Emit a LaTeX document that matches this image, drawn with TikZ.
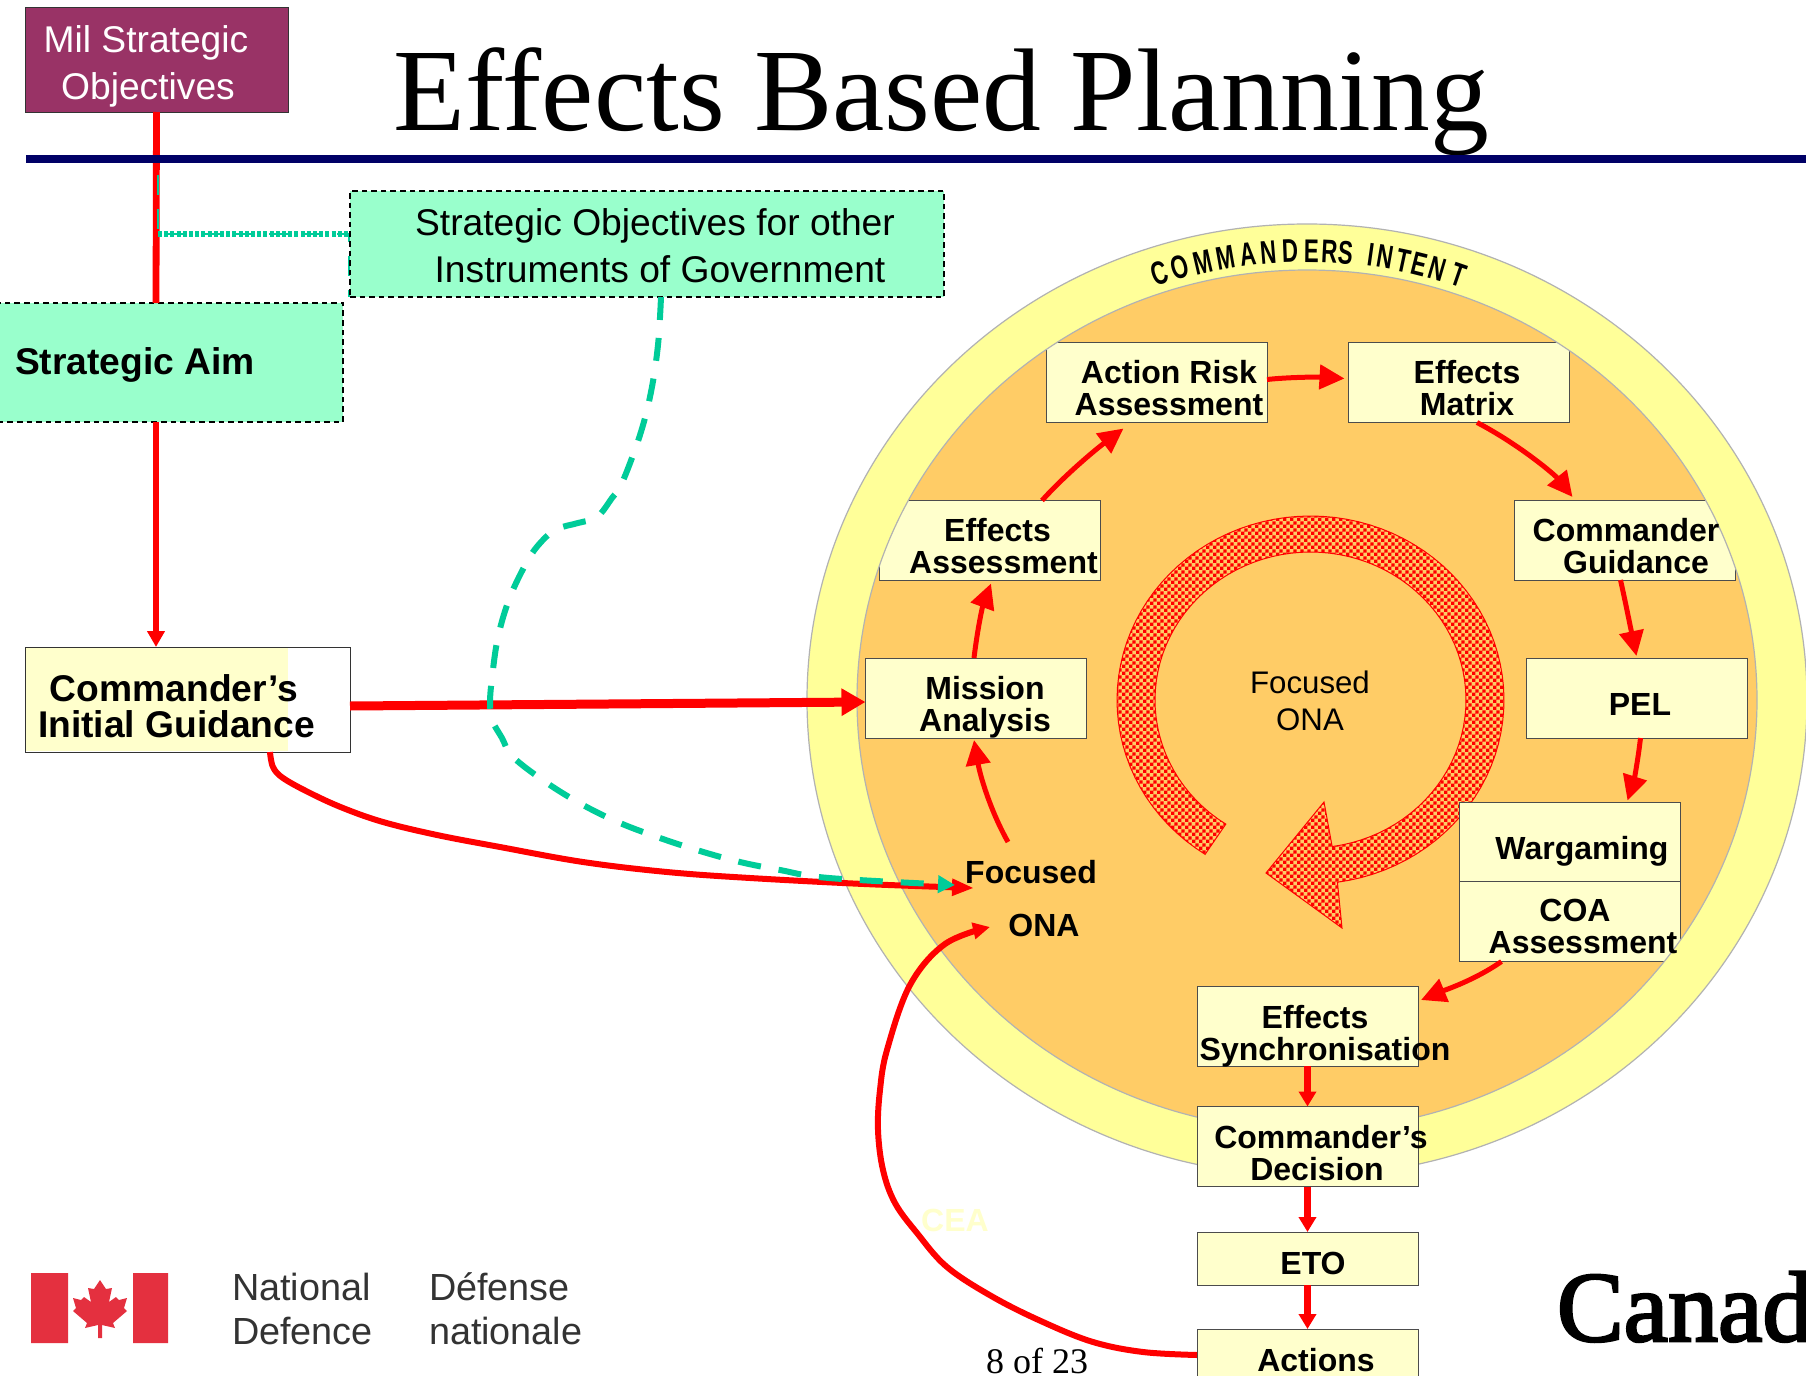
\documentclass[tikz,border=0pt]{standalone}
\usepackage{fontspec}
\setmainfont{Liberation Sans}
\newfontfamily\titlefont{Liberation Serif}
\newfontfamily\canadafont[FakeBold=2.5]{Liberation Serif}
\usetikzlibrary{arrows.meta,patterns,calc}

\definecolor{planyellow}{HTML}{FFFFCC}
\definecolor{ringyellow}{HTML}{FFFF99}
\definecolor{planorange}{HTML}{FFCC66}
\definecolor{aimgreen}{HTML}{99FFCC}
\definecolor{linkgreen}{HTML}{00CC99}
\definecolor{milpurple}{HTML}{993366}
\definecolor{rulenavy}{HTML}{000066}
\definecolor{flagred}{HTML}{E4303F}

\pgfdeclarepatternformonly{ringcheck}{\pgfqpoint{0pt}{0pt}}{\pgfqpoint{3.4pt}{3.4pt}}{\pgfqpoint{3.4pt}{3.4pt}}{
  \pgfpathrectangle{\pgfpointorigin}{\pgfqpoint{1.7pt}{1.7pt}}
  \pgfpathrectangle{\pgfqpoint{1.7pt}{1.7pt}}{\pgfqpoint{1.7pt}{1.7pt}}
  \pgfusepath{fill}}

\tikzset{
  planbox/.style={draw=black!70,fill=planyellow,line width=.5pt,minimum width=110.5pt,minimum height=#1},
  planbox/.default=40pt,
  greenbox/.style={draw=black,fill=aimgreen,dash pattern=on 2.8pt off 2pt,line width=1pt},
  boxtext/.style={align=center,font=\fontsize{16}{15.9}\selectfont\bfseries},
  bigtext/.style={align=center,font=\fontsize{18.6}{18}\selectfont\bfseries},
  plaintext/.style={align=center,font=\fontsize{18.6}{23.5}\selectfont},
  logotext/.style={align=left,anchor=west,text=black!80,font=\fontsize{18.9}{22}\selectfont},
  looparrow/.style={red,line width=2.5pt,-{Triangle[length=12.5pt,width=12pt]}},
  smallarrow/.style={red,line width=3.2pt,-{Triangle[length=7.5pt,width=8.5pt]}}
}

\begin{document}
\begin{tikzpicture}[x=.5pt,y=-.5pt,every node/.style={inner sep=0,outer sep=0}]
\path[use as bounding box,fill=white] (0,0) rectangle (1806,1376);

\node[anchor=base,font=\fontsize{58.8}{60}\selectfont\titlefont] (title) at (941.5,130) {Effects Based Planning};
\node[draw=black!80,fill=milpurple,minimum width=131.5pt,minimum height=52.5pt] (mil) at (156.5,59.5) {};
\node[plaintext,text=white] (mil-t) at (146,66.5) {Mil Strategic\\\kern2pt Objectives};

% red trunk goes under the rule
\node[greenbox,minimum width=187pt,minimum height=59.5pt] (aim) at (156,362.5) {};
\node[bigtext,anchor=base] (aim-t) at (135,374) {Strategic Aim};
\node[draw=black!80,fill=white,line width=.5pt,minimum width=162.5pt,minimum height=52.5pt] (cig) at (187.5,699.5) {};
\fill[planyellow] (26,648) rectangle (288,751);
\node[bigtext] (cig-t) at (176.5,706.5) {Commander's\kern2.5pt\\Initial Guidance};
\draw[red,line width=3.4pt] (mil.south) -- (aim.north);
\draw[red,line width=3.4pt,-{Triangle[length=8pt,width=8.5pt]}] (aim.south) -- ([xshift=-15.75pt]cig.north);
\draw[rulenavy,line width=4pt] (26,159) -- (1806,159);

% thin stub of the green link, mostly hidden
\coordinate (link-top) at (158,175);
\coordinate (link-corner) at (158,234);
\draw[linkgreen,line width=1pt,dash pattern=on 10pt off 7pt] (link-top) -- (link-corner) -- (349,234) -- (349,297);
\node[greenbox,minimum width=297pt,minimum height=53pt] (objs) at (647,244) {};
\node[plaintext] (objs-t) at (655,245.5) {Strategic Objectives for other\\\kern5pt Instruments of Government};
\draw[linkgreen,line width=3.4pt,dash pattern=on 2pt off 1.1pt] (link-corner) -- (objs.west |- link-corner);

% planning circle
\fill[planorange] (1307,700) ellipse [x radius=225pt,y radius=215pt];

% focused ONA ring
\draw[red,line width=.5pt,pattern=ringcheck,pattern color=red]
  plot[domain=237:-82,samples=90] ({1310.5+193.5*cos(\x)},{700-184*sin(\x)})
  -- (1342,928) -- (1266,873) -- (1324,802)
  -- plot[domain=-82:237,samples=90] ({1310.5+155.5*cos(\x)},{700-148*sin(\x)}) -- cycle;

\node[planbox] (mission) at (976,698) {};
\node[planbox] (effects-a) at (990,540.5) {};
\node[planbox] (action) at (1156.5,382.5) {};
\node[planbox] (matrix) at (1459,382.5) {};
\node[planbox] (guidance) at (1624.5,540) {};
\node[planbox] (pel) at (1636.5,698) {};
\node[planbox] (wargaming) at (1569.5,842.5) {};
\node[planbox] (coa) at (1569.5,921.5) {};
\node[planbox] (sync) at (1307.5,1026) {};

% ring goes over the box corners
\filldraw[ringyellow,draw=black!30,line width=.6pt,even odd rule]
  (1307,700) ellipse [x radius=250pt,y radius=238pt]
  (1307,700) ellipse [x radius=225pt,y radius=215pt];
\node[planbox] (decision) at (1307.5,1146.5) {};
\node[planbox=26.5pt] (eto) at (1307.5,1258.5) {};
\node[planbox] (actions) at (1307.5,1369) {};

\foreach \letter/\lx in {C/132,O/178,M/228,M/280,A/330,N/375,D/422,E/470,R/510,S/547,I/603,N/633,T/675,E/710,N/750,T/797} {
  \pgfmathsetmacro\ldx{(\lx-460)/2.22}
  \node[rotate={-\ldx*.125},font=\fontsize{16.4}{17}\selectfont\bfseries] (intent-\lx)
    at ({1307+\ldx},{700-449*sqrt(1-(\ldx/471)*(\ldx/471))}) {\scalebox{.68}[1]{\letter}};
}

\node[boxtext] (mission-t) at (985,707.5) {Mission\\Analysis};
\node[boxtext] (effects-t) at (1003.5,546) {Effects\kern6pt\\Assessment};
\node[boxtext] (action-t) at (1169,388) {Action Risk\\Assessment};
\node[boxtext] (matrix-t) at (1467,388) {Effects\\Matrix};
\node[boxtext] (guidance-t) at (1626,546) {Commander\\\kern10pt Guidance};
\node[boxtext,anchor=base] (pel-t) at (1640,715) {PEL};
\node[boxtext,anchor=base] (wargaming-t) at (1582,859) {Wargaming};
\node[boxtext] (coa-t) at (1583,926.5) {COA\kern8pt\\Assessment};
\node[boxtext] (sync-t) at (1325,1036.5) {Effects\kern10pt\\Synchronisation};
\node[boxtext] (decision-t) at (1321,1153) {Commander's\\Decision\kern4pt};
\node[boxtext,anchor=base] (eto-t) at (1313,1274) {ETO};
\node[boxtext,anchor=base] (actions-t) at (1316,1371) {Actions};
\node[boxtext,anchor=base] (focused) at (1031,883) {Focused};
\node[boxtext,anchor=base] (ona) at (1044,936) {ONA};
\node[align=center,font=\fontsize{15.6}{18.4}\selectfont] (ring-t) at (1310,700.5) {Focused\\ONA};
\node[boxtext,anchor=base,text=planyellow] (cea) at (955,1231) {CEA};

% loop arrows
\coordinate (focused-out) at (1008,842);
\draw[looparrow] (focused-out) .. controls (990,810) and (980,775) .. ([xshift=-1pt,yshift=-1pt]mission.south);
\draw[looparrow] ([xshift=-1pt]mission.north) .. controls (978,625) and (983,605) .. ([xshift=.5pt,yshift=-1.5pt]effects-a.south);
\draw[looparrow] ([xshift=26pt]effects-a.north) .. controls (1065,475) and (1095,450) .. ([xshift=-16.5pt,yshift=-3pt]action.south);
\draw[looparrow] ([yshift=1.5pt]action.east) .. controls (1290,377) and (1320,377) .. ([xshift=-2pt,yshift=2pt]matrix.west);
\draw[looparrow] ([xshift=9pt]matrix.south) .. controls (1520,445) and (1555,475) .. ([xshift=-26pt,yshift=1.5pt]guidance.north);
\draw[looparrow] ([xshift=-2pt]guidance.south) .. controls (1625,600) and (1630,625) .. ([yshift=1pt]pel.north);
\draw[looparrow] ([xshift=2pt]pel.south) .. controls (1638,760) and (1634,780) .. ([xshift=29pt,yshift=1pt]wargaming.north);
\draw[looparrow] ([xshift=-34pt]coa.south) .. controls (1475,980) and (1445,990) .. ([xshift=1.5pt,yshift=-7pt]sync.north east);

\draw[smallarrow] (sync.south) -- (decision.north);
\draw[smallarrow] (decision.south) -- (eto.north);
\draw[smallarrow] (eto.south) -- (actions.north);

\draw[red,line width=4.5pt,-{Triangle[length=12pt,width=13pt]}] ([yshift=-3.25pt]cig.east) -- ([yshift=-2pt]mission.west);

\coordinate (focused-red) at (974,888);
\coordinate (focused-green) at (955,885);
\coordinate (ona-in) at (990,927);
\draw[red,line width=3pt,-{Triangle[length=11pt,width=8pt]}] plot[smooth,tension=.6] coordinates
  {([xshift=41.25pt]cig.south) (273,767) (283,778) (310,793) (343,808) (383,822) (437,835) (500,847) (583,862) (667,872) (750,878) (864,884) (focused-red)};
\draw[red,line width=3pt,-{Triangle[length=8.5pt,width=8pt]}] plot[smooth,tension=.6] coordinates
  {([yshift=7pt]actions.west) (1143,1352) (1093,1342) (1043,1322) (993,1297) (947,1267) (917,1233) (895,1203) (883,1170) (878,1130) (880,1090) (887,1050) (910,985) (945,944) (ona-in)};
\draw[linkgreen,line width=3pt,dash pattern=on 11.5pt off 9pt,-{Triangle[length=8.5pt,width=8.5pt]}] plot[smooth,tension=.6] coordinates
  {([xshift=7pt]objs.south) (658,345) (651,392) (640,435) (622,483) (612,498) (597,517) (578,523) (557,529) (542,541) (528,560) (510,597) (498,637) (492,678) (490,703) (492,720) (502,738) (513,757) (547,783) (583,805) (620,823) (660,838) (700,851) (740,862) (780,870) (829,878) (focused-green)};

% footer
\node[anchor=base,font=\fontsize{18}{20}\selectfont\titlefont] (page) at (1037,1373) {8 of 23};
\fill[flagred] (31,1273) rectangle (68,1343) (133,1273) rectangle (168,1343);
\fill[flagred] (100,1280) -- (106,1289) -- (112,1288) -- (109,1302) -- (116,1297) -- (119,1300) -- (127,1298)
  -- (124,1308) -- (127,1311) -- (113,1323) -- (115,1328) -- (102,1325) -- (102,1338) -- (98,1338) -- (98,1325)
  -- (85,1328) -- (87,1323) -- (73,1311) -- (76,1308) -- (73,1298) -- (81,1300) -- (84,1297) -- (91,1302)
  -- (88,1288) -- (94,1289) -- cycle;
\node[logotext] (dnd-en) at (232,1308.5) {National\\Defence};
\node[logotext] (dnd-fr) at (429,1308.5) {Défense\\nationale};
\node[anchor=base west,font=\fontsize{50}{54}\selectfont\canadafont] (canada) at (1557,1341) {Canad};
\end{tikzpicture}
\end{document}
